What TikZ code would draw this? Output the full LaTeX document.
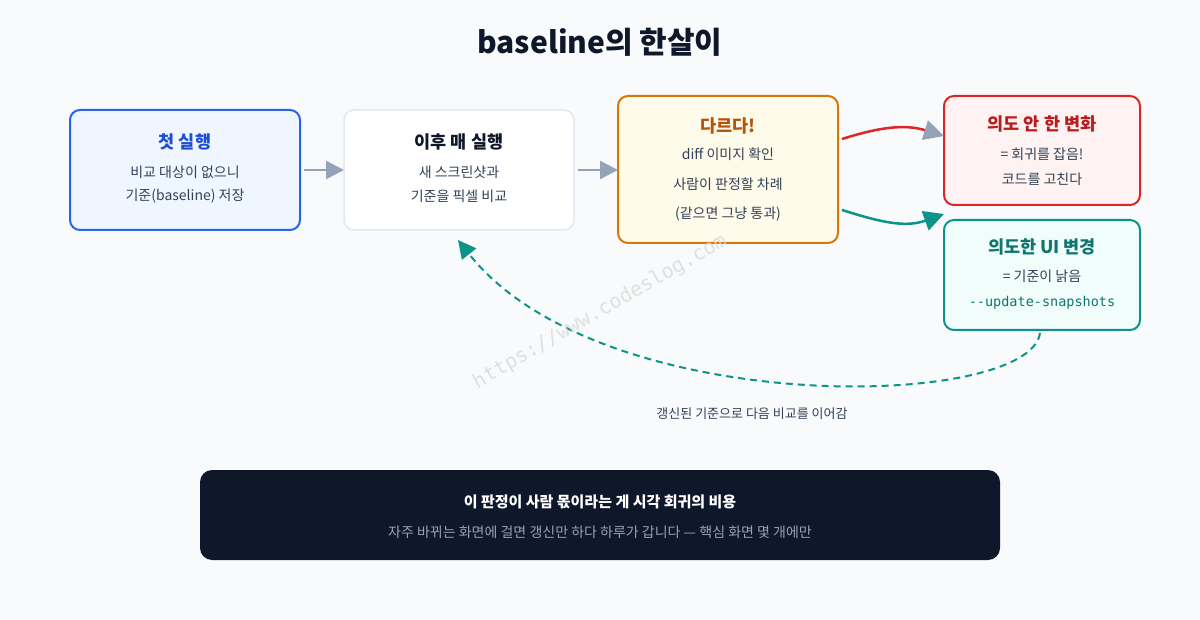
\documentclass[tikz,border=0pt]{standalone}
\usepackage{fontspec}
\setmainfont{Noto Sans CJK KR}
\setmonofont{DejaVu Sans Mono}
\usetikzlibrary{arrows.meta}
\definecolor{bg}{HTML}{F8FAFC}
\definecolor{bluB}{HTML}{2563EB}\definecolor{bluF}{HTML}{EFF6FF}\definecolor{bluT}{HTML}{1D4ED8}
\definecolor{gryB}{HTML}{E2E8F0}\definecolor{gryA}{HTML}{94A3B8}\definecolor{txt}{HTML}{334155}
\definecolor{orgB}{HTML}{D97706}\definecolor{orgF}{HTML}{FFFBEB}\definecolor{orgT}{HTML}{B45309}
\definecolor{redB}{HTML}{DC2626}\definecolor{redF}{HTML}{FEF2F2}\definecolor{redT}{HTML}{B91C1C}
\definecolor{tlB}{HTML}{0D9488}\definecolor{tlF}{HTML}{F0FDFA}\definecolor{tlT}{HTML}{0F766E}
\definecolor{dark}{HTML}{0F172A}
\begin{document}
\begin{tikzpicture}[x=1pt,y=-1pt,
 box/.style={draw,line width=2pt,rounded corners=10pt},
 ttl/.style={font=\fontsize{17.5}{20}\selectfont\bfseries},
 ln/.style={font=\fontsize{14}{16}\selectfont,text=txt},
 arr/.style={line width=2.5pt,-{Triangle[length=18pt,width=18pt]}}]
\fill[bg] (0,0) rectangle (1200,620);
\useasboundingbox (0,0) rectangle (1200,620);
\node[font=\fontsize{30}{33}\selectfont\bfseries,text=dark] (title) at (600,42) {baseline의 한살이};
% boxes
\draw[box,draw=bluB,fill=bluF] (70,110) rectangle (300,230);
\node[ttl,text=bluT] (b1t) at (185,142) {첫 실행};
\node[ln] (b1a) at (185,172) {비교 대상이 없으니};
\node[ln] (b1b) at (185,196) {기준(baseline) 저장};
\draw[box,line width=1.5pt,draw=gryB,fill=white] (344,110) rectangle (574,230);
\node[ttl,text=dark] (b2t) at (459,142) {이후 매 실행};
\node[ln] (b2a) at (459,172) {새 스크린샷과};
\node[ln] (b2b) at (459,196) {기준을 픽셀 비교};
\draw[box,draw=orgB,fill=orgF] (618,96) rectangle (838,243);
\node[ttl,text=orgT] (b3t) at (728,126) {다르다!};
\node[ln] (b3a) at (728,154) {diff 이미지 확인};
\node[ln] (b3b) at (728,184) {사람이 판정할 차례};
\node[ln] (b3c) at (728,214) {(같으면 그냥 통과)};
\draw[box,draw=redB,fill=redF] (944,96) rectangle (1140,205);
\node[ttl,text=redT] (b4t) at (1042,124) {의도 안 한 변화};
\node[ln] (b4a) at (1042,154) {= 회귀를 잡음!};
\node[ln] (b4b) at (1042,179) {코드를 고친다};
\draw[box,draw=tlB,fill=tlF] (944,220) rectangle (1140,330);
\node[ttl,text=tlT] (b5t) at (1042,247) {의도한 UI 변경};
\node[ln] (b5a) at (1042,276) {= 기준이 낡음};
\node[ln,text=tlT,font=\ttfamily\fontsize{13.5}{15}\selectfont] (b5b) at (1042,303) {--update-snapshots};
% connectors
\coordinate (a1s) at (304,170); \coordinate (a1e) at (344,170);
\coordinate (a2s) at (578,170); \coordinate (a2e) at (618,170);
\draw[arr,draw=gryA,fill=gryA] (a1s) -- (a1e);
\draw[arr,draw=gryA,fill=gryA] (a2s) -- (a2e);
\coordinate (r1) at (842,139); \coordinate (r2) at (944,136);
\draw[line width=2.5pt,draw=redB,-{Triangle[length=20pt,width=20pt,fill=gryA,color=gryA]}] (r1) .. controls (880,127) and (905,124) .. (r2);
\coordinate (t1) at (842,210); \coordinate (t2) at (944,214);
\draw[line width=2.5pt,draw=tlB,-{Triangle[length=20pt,width=20pt]}] (t1) .. controls (880,222) and (905,228) .. (t2);
\coordinate (d1) at (1040,333); \coordinate (d2) at (458,240);
\draw[line width=2pt,draw=tlB,dash pattern=on 7pt off 5pt,-{Triangle[length=18pt,width=18pt]}] (d1) .. controls (1030,410) and (600,420) .. (d2);
\node[font=\fontsize{13}{15}\selectfont,text=txt] (lbl) at (752,414) {갱신된 기준으로 다음 비교를 이어감};
% watermark
\node[rotate=30,text=gray!30,opacity=0.8,font=\ttfamily\fontsize{20}{22}\selectfont] (wm) at (600,312) {https://www.codeslog.com};
% bottom
\fill[dark,rounded corners=12pt] (200,470) rectangle (1000,560);
\node[font=\fontsize{15}{17}\selectfont\bfseries,text=white] (n1) at (600,502) {이 판정이 사람 몫이라는 게 시각 회귀의 비용};
\node[font=\fontsize{14}{16}\selectfont,text=gryA] (n2) at (600,532) {자주 바뀌는 화면에 걸면 갱신만 하다 하루가 갑니다 — 핵심 화면 몇 개에만};
\end{tikzpicture}
\end{document}
